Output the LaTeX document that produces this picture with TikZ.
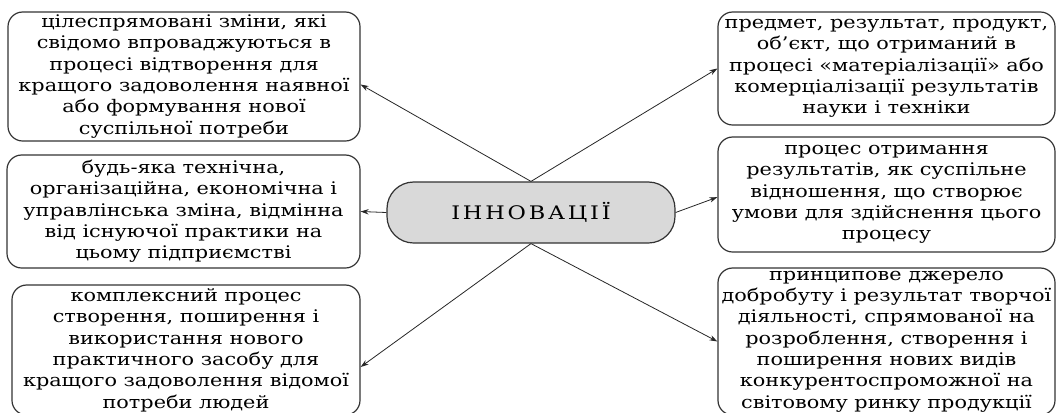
\documentclass[tikz,border=0pt]{standalone}
\usepackage{fontspec}
\setmainfont{DejaVu Serif}[FakeStretch=1.2]
\usetikzlibrary{arrows.meta}
\begin{document}
\begin{tikzpicture}[x=0.75pt,y=-0.75pt,
  box/.style={draw=black!80, line width=0.9pt, rounded corners=11pt, align=center,
    font=\fontsize{13}{16}\selectfont, inner sep=0pt},
  core/.style={draw=black!80, line width=0.9pt, fill=black!15, rounded corners=20pt,
    font=\fontsize{14}{16}\selectfont\addfontfeature{LetterSpace=15}, inner sep=0pt},
  arr/.style={-{Stealth[length=6pt,width=4pt]}, line width=0.6pt, draw=black!85}]
\clip (0,0) rectangle (1057,412);
\node[box, minimum width=264pt, minimum height=96.75pt] (tl) at (184,76.5)
  {цілеспрямовані зміни, які\\свідомо впроваджуються в\\процесі відтворення для\\кращого задоволення наявної\\або формування нової\\суспільної потреби};
\node[box, minimum width=264.75pt, minimum height=84.75pt] (ml) at (183.5,211.5)
  {будь-яка технічна,\\організаційна, економічна і\\управлінська зміна, відмінна\\від існуючої практики на\\цьому підприємстві};
\node[box, minimum width=261pt, minimum height=97.5pt] (bl) at (186,350)
  {комплексний процес\\створення, поширення і\\використання нового\\практичного засобу для\\кращого задоволення відомої\\потреби людей};
\node[box, minimum width=252.75pt, minimum height=84.75pt] (tr) at (886.5,68.5)
  {предмет, результат, продукт,\\об’єкт, що отриманий в\\процесі «матеріалізації» або\\комерціалізації результатів\\науки і техніки};
\node[box, minimum width=252.75pt, minimum height=86.25pt] (mr) at (886.5,194.5)
  {процес отримання\\результатів, як суспільне\\відношення, що створює\\умови для здійснення цього\\процесу};
\node[box, minimum width=252.75pt, minimum height=110.25pt] (br) at (886.5,341.5)
  {принципове джерело\\добробуту і результат творчої\\діяльності, спрямованої на\\розроблення, створення і\\поширення нових видів\\конкурентоспроможної на\\світовому ринку продукції};
\node[core, minimum width=216pt, minimum height=45.75pt] (c) at (531,212.5) {ІННОВАЦІЇ};
\draw[arr] (c.north) -- ([yshift=-6pt]tl.east);
\draw[arr] (c.north) -- (tr.west);
\draw[arr] (c.west) -- (ml.east);
\draw[arr] (c.east) -- ([yshift=-2pt]mr.west);
\draw[arr] (c.south) -- ([yshift=-12.75pt]bl.east);
\draw[arr] (c.south) -- (br.west);
\end{tikzpicture}
\end{document}
